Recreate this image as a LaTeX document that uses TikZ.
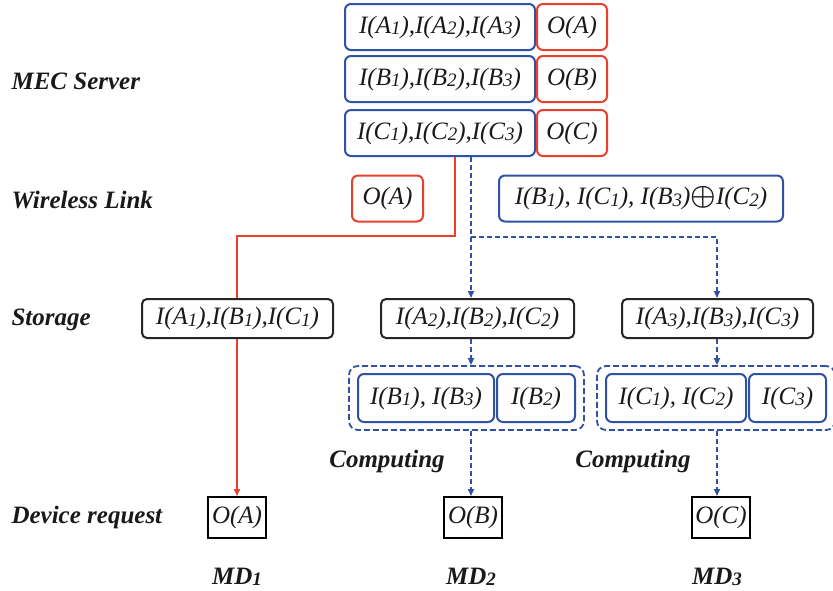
\documentclass[tikz,border=0pt]{standalone}
\usepackage{fontspec}
\setmainfont{Liberation Serif}
\usetikzlibrary{arrows.meta,fit}
\definecolor{srvblue}{RGB}{48,82,165}
\definecolor{srvred}{RGB}{232,64,47}
\newcommand{\dn}[1]{\raisebox{-1.5pt}{\fontsize{19}{20}\selectfont #1}}
\newcommand{\xorop}{\scalebox{1.15}{\boldmath$\oplus$}}
\begin{document}
\begin{tikzpicture}[x=1pt,y=-1pt,font=\fontsize{25}{28}\selectfont\itshape]
  \tikzset{blue box/.style={draw=srvblue,line width=2pt,rounded corners=6pt,fill=white,text=black!90,inner sep=0pt,minimum height=46pt,minimum width=#1},
    red box/.style={draw=srvred,line width=2pt,rounded corners=6pt,fill=white,text=black!90,inner sep=0pt,minimum height=46pt,minimum width=#1},
    store box/.style={draw=black!85,line width=2pt,rounded corners=5pt,fill=white,text=black!90,inner sep=0pt,minimum height=39pt,minimum width=#1},
    dev box/.style={draw=black,line width=2pt,fill=white,text=black!90,inner sep=0pt,minimum height=41pt,minimum width=58pt},
    group box/.style={draw=srvblue,line width=1.8pt,dash pattern=on 6pt off 3pt,rounded corners=9pt,inner xsep=8pt,inner ysep=7pt},
    lbl/.style={font=\fontsize{25}{28}\selectfont\bfseries\itshape,text=black!90},
    red line/.style={draw=srvred,line width=2pt},
    blue dash/.style={draw=srvblue,line width=1.7pt,dash pattern=on 5pt off 3pt},
    arr/.style={-{Triangle[length=7pt,width=6pt]}}}
  \useasboundingbox (0,0) rectangle (833,590);

  % MEC server
  \node[blue box=190pt] (Ain) at (440,27) {I(A\dn{1}),I(A\dn{2}),I(A\dn{3})};
  \node[red box=70pt] (Aout) at (572,27) {O(A)};
  \node[blue box=190pt] (Bin) at (440,79) {I(B\dn{1}),I(B\dn{2}),I(B\dn{3})};
  \node[red box=70pt] (Bout) at (572,79) {O(B)};
  \node[blue box=190pt] (Cin) at (440,133) {I(C\dn{1}),I(C\dn{2}),I(C\dn{3})};
  \node[red box=70pt] (Cout) at (572,133) {O(C)};

  % wireless link
  \node[red box=71pt] (wa) at (387.5,198.5) {O(A)};
  \node[blue box=284pt] (wbc) at (641,198.5) {I(B\dn{1}), I(C\dn{1}), I(B\dn{3})\xorop I(C\dn{2})};

  % storage
  \node[store box=191pt] (st1) at (237.5,318.5) {I(A\dn{1}),I(B\dn{1}),I(C\dn{1})};
  \node[store box=193pt] (st2) at (477.5,318.5) {I(A\dn{2}),I(B\dn{2}),I(C\dn{2})};
  \node[store box=191pt] (st3) at (717.5,318.5) {I(A\dn{3}),I(B\dn{3}),I(C\dn{3})};

  % computing
  \node[blue box=136pt,minimum height=48pt] (cb1) at (426,398) {I(B\dn{1}), I(B\dn{3})};
  \node[blue box=78pt,minimum height=48pt] (cb2) at (536,398) {I(B\dn{2})};
  \node[group box,fit=(cb1)(cb2)] (cg2) {};
  \node[blue box=140pt,minimum height=48pt] (cc1) at (676,398) {I(C\dn{1}), I(C\dn{2})};
  \node[blue box=77pt,minimum height=48pt] (cc2) at (787.5,398) {I(C\dn{3})};
  \node[group box,fit=(cc1)(cc2)] (cg3) {};

  % device request
  \node[dev box] (da) at (237,517.5) {O(A)};
  \node[dev box] (db) at (473,517.5) {O(B)};
  \node[dev box] (dc) at (721,517.5) {O(C)};

  \coordinate (rt) at (455,236);
  \coordinate (lt) at (237,236);
  \coordinate (bt) at (471,237);
  \coordinate (bt3) at (717,237);

  \draw[red line] (Cin.south -| rt) -- (rt) -- (lt) -- (st1.north -| lt);
  \draw[red line,arr] (st1.south -| lt) -- (da.north -| lt);
  \draw[blue dash,arr] (Cin.south -| bt) -- (bt) -- (bt3) -- (st3.north -| bt3);
  \draw[blue dash,arr] (bt) -- (st2.north -| bt);
  \draw[blue dash,arr] (st2.south -| bt) -- (cg2.north -| bt);
  \draw[blue dash,arr] (cg2.south -| bt) -- (db.north -| bt);
  \draw[blue dash,arr] (st3.south -| bt3) -- (cg3.north -| bt3);
  \draw[blue dash,arr] (cg3.south -| bt3) -- (dc.north -| bt3);

  % row labels
  \node[lbl,anchor=west] (lmec) at (8,81) {MEC Server};
  \node[lbl,anchor=west] (lwl) at (8,200) {Wireless Link};
  \node[lbl,anchor=west] (lst) at (8,320) {Storage};
  \node[lbl,anchor=west] (ldr) at (8,517) {Device request};
  \node[lbl] (comp2) at (387,461) {Computing};
  \node[lbl] (comp3) at (633,461) {Computing};
  \node[lbl] (md1) at (237,577) {MD\dn{1}};
  \node[lbl] (md2) at (471,577) {MD\dn{2}};
  \node[lbl] (md3) at (717,577) {MD\dn{3}};
\end{tikzpicture}
\end{document}
